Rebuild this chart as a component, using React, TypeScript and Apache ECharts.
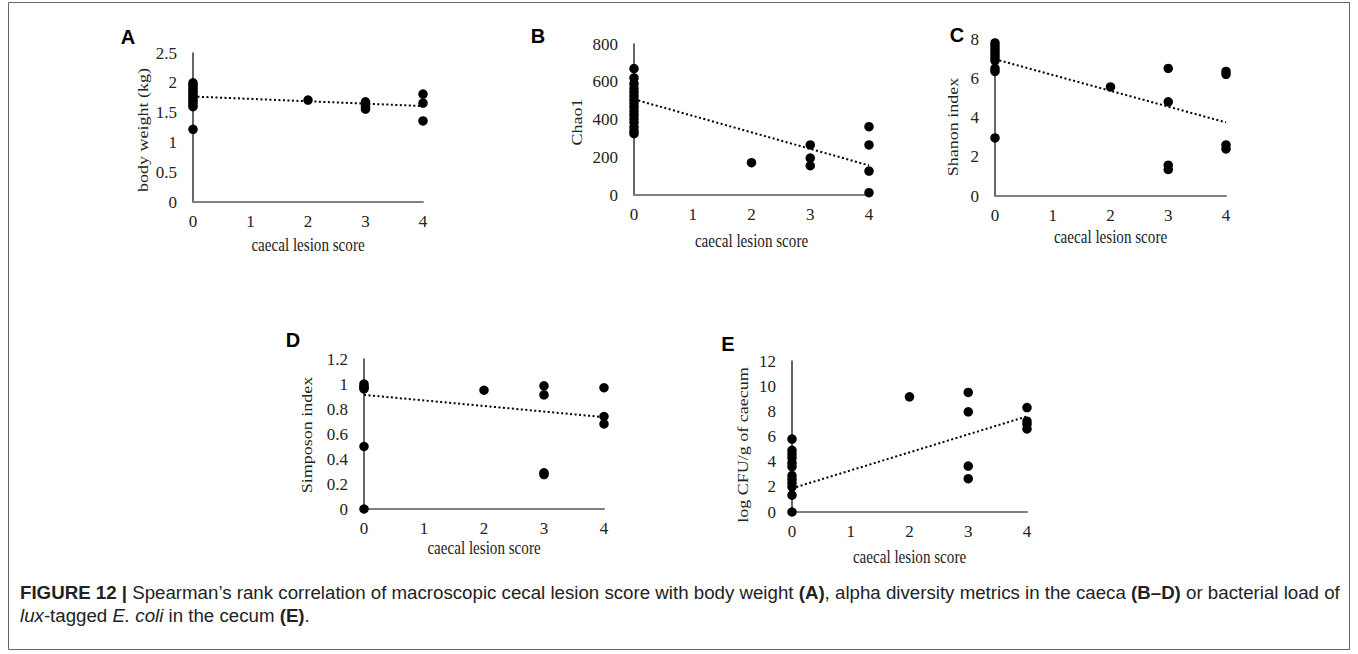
import React, { useEffect, useRef } from 'react';
import * as echarts from 'echarts';

// caecal lesion score axis ticks
const lesionTicks = [0, 1, 2, 3, 4];

// Panel A: body weight (kg)
const aX = [0, 0, 0, 0, 0, 0, 0, 0, 0, 0, 0, 0, 2, 3, 3, 3, 3, 4, 4, 4];
const aY = [2.0, 1.96, 1.92, 1.88, 1.84, 1.8, 1.76, 1.72, 1.68, 1.64, 1.6, 1.22, 1.71, 1.68, 1.64, 1.6, 1.56, 1.81, 1.66, 1.36];
const aTrend = [1.77, 1.61];

// Panel B: Chao1
const bX = [0, 0, 0, 0, 0, 0, 0, 0, 0, 0, 0, 0, 0, 0, 0, 0, 2, 3, 3, 3, 4, 4, 4, 4];
const bY = [670, 620, 590, 565, 545, 525, 505, 485, 465, 445, 425, 405, 385, 360, 340, 325, 171, 265, 196, 155, 362, 265, 127, 12];
const bTrend = [507, 157];

// Panel C: Shanon index
const cX = [0, 0, 0, 0, 0, 0, 0, 0, 0, 0, 2, 3, 3, 3, 3, 4, 4, 4, 4];
const cY = [7.8, 7.65, 7.5, 7.35, 7.2, 7.05, 6.9, 6.5, 6.35, 2.96, 5.56, 6.5, 4.8, 1.57, 1.35, 6.35, 6.2, 2.6, 2.4];
const cTrend = [6.97, 3.75];

// Panel D: Simposon index
const dX = [0, 0, 0, 0, 0, 0, 2, 3, 3, 3, 3, 4, 4, 4];
const dY = [1.0, 0.98, 0.97, 0.96, 0.5, 0, 0.95, 0.985, 0.913, 0.29, 0.275, 0.97, 0.74, 0.68];
const dTrend = [0.913, 0.735];

// Panel E: log CFU/g of caecum
const eX = [0, 0, 0, 0, 0, 0, 0, 0, 0, 0, 0, 0, 2, 3, 3, 3, 3, 4, 4, 4, 4];
const eY = [5.8, 4.9, 4.6, 4.3, 3.9, 3.6, 2.9, 2.6, 2.3, 2.0, 1.35, 0, 9.15, 9.5, 7.96, 3.65, 2.65, 8.3, 7.22, 6.98, 6.6];
const eTrend = [1.88, 7.6];

const yMax = [2.5, 800, 8, 1.2, 12];
const yInterval = [0.5, 200, 2, 0.2, 2];
const yTitles = ['body weight (kg)', 'Chao1', 'Shanon index', 'Simposon index', 'log CFU/g of caecum'];
const panelLetters = ['A', 'B', 'C', 'D', 'E'];
const xTitle = 'caecal lesion score';

const panelsData = [
  { xs: aX, ys: aY, trend: aTrend },
  { xs: bX, ys: bY, trend: bTrend },
  { xs: cX, ys: cY, trend: cTrend },
  { xs: dX, ys: dY, trend: dTrend },
  { xs: eX, ys: eY, trend: eTrend },
];

// layout (pixels)
const layout = [
  { left: 193, top: 53, width: 230, height: 149, letter: [128, 37], yTitle: [143, 130], xTitleY: 245 },
  { left: 634, top: 44, width: 235, height: 151, letter: [538, 36], yTitle: [577, 122], xTitleY: 241 },
  { left: 995, top: 39, width: 231, height: 157, letter: [957, 35], yTitle: [953, 127], xTitleY: 237 },
  { left: 364, top: 359, width: 240, height: 150, letter: [293, 340], yTitle: [307, 435], xTitleY: 548 },
  { left: 792, top: 361, width: 235, height: 151, letter: [728, 344], yTitle: [743, 445], xTitleY: 557 },
];

const SERIF = "'Liberation Serif', 'DejaVu Serif', serif";
const SANS = "'Liberation Sans', Arial, sans-serif";
const SQUEEZE = 0.84;

function buildOption() {
  const grid: any[] = [];
  const xAxis: any[] = [];
  const yAxis: any[] = [];
  const series: any[] = [];
  const graphic: any[] = [];

  graphic.push({
    type: 'rect',
    shape: { x: 8.5, y: 2.5, width: 1341, height: 647 },
    style: { fill: 'none', stroke: '#666', lineWidth: 1 },
    silent: true,
  });

  layout.forEach((L, i) => {
    grid.push({ left: L.left, top: L.top, width: L.width, height: L.height, containLabel: false, outerBoundsMode: 'none' });
    xAxis.push({
      type: 'value', gridIndex: i, min: lesionTicks[0], max: lesionTicks[lesionTicks.length - 1], interval: 1,
      axisLine: { show: true, onZero: false, lineStyle: { color: '#808080', width: 2 } },
      axisTick: { show: false }, splitLine: { show: false },
      axisLabel: { margin: 11, color: '#222', fontFamily: SERIF, fontSize: 17 },
    });
    yAxis.push({
      type: 'value', gridIndex: i, min: 0, max: yMax[i], interval: yInterval[i],
      axisLine: { show: true, onZero: false, lineStyle: { color: '#333', width: 1.5 } },
      axisTick: { show: false }, splitLine: { show: false },
      axisLabel: { margin: 16, color: '#222', fontFamily: SERIF, fontSize: 17 },
    });
    const P = panelsData[i];
    series.push({
      type: 'line', xAxisIndex: i, yAxisIndex: i,
      data: [[lesionTicks[0], P.trend[0]], [lesionTicks[4], P.trend[1]]],
      showSymbol: false, symbol: 'none',
      lineStyle: { color: '#000', width: 2, type: [2, 2.5] },
      z: 2,
    });
    series.push({
      type: 'scatter', xAxisIndex: i, yAxisIndex: i,
      data: P.xs.map((x, k) => [x, P.ys[k]]),
      symbolSize: 9.5,
      itemStyle: { color: '#000', opacity: 1 },
      z: 3,
    });
    graphic.push({
      type: 'text', x: L.letter[0], y: L.letter[1],
      style: { text: panelLetters[i], fontFamily: SANS, fontWeight: 'bold', fontSize: 20, fill: '#000', align: 'center', verticalAlign: 'middle' },
    });
    graphic.push({
      type: 'text', x: L.yTitle[0], y: L.yTitle[1], rotation: Math.PI / 2, scaleY: SQUEEZE,
      style: { text: yTitles[i], fontFamily: SERIF, fontSize: 18, fill: '#222', align: 'center', verticalAlign: 'middle' },
    });
    graphic.push({
      type: 'text', x: L.left + L.width / 2, y: L.xTitleY, scaleX: SQUEEZE,
      style: { text: xTitle, fontFamily: SERIF, fontSize: 18, fill: '#222', align: 'center', verticalAlign: 'middle' },
    });
  });

  const FS = 18.7;
  const rich = {
    b: { fontFamily: SANS, fontSize: FS, fontWeight: 'bold', fill: '#222' },
    i: { fontFamily: SANS, fontSize: FS, fontStyle: 'italic', fill: '#222' },
  };
  graphic.push({
    type: 'text', x: 20, y: 592,
    style: {
      text: '{b|FIGURE 12 |} Spearman’s rank correlation of macroscopic cecal lesion score with body weight {b|(A)}, alpha diversity metrics in the caeca {b|(B–D)} or bacterial load of',
      rich, fontFamily: SANS, fontSize: FS, fill: '#222', verticalAlign: 'middle',
    },
  });
  graphic.push({
    type: 'text', x: 20, y: 615,
    style: {
      text: '{i|lux}-tagged {i|E. coli} in the cecum {b|(E)}.',
      rich, fontFamily: SANS, fontSize: FS, fill: '#222', verticalAlign: 'middle',
    },
  });

  return { animation: false, backgroundColor: '#fff', grid, xAxis, yAxis, series, graphic };
}

export default function App() {
  const ref = useRef<HTMLDivElement>(null);
  useEffect(() => {
    if (!ref.current) return;
    const chart = echarts.init(ref.current, null, { renderer: 'svg' });
    chart.setOption(buildOption() as any);
    return () => chart.dispose();
  }, []);
  return (
    <div
      ref={ref}
      style={{ position: 'fixed', left: 0, top: 0, width: 1358, height: 654, background: '#fff' }}
    />
  );
}
